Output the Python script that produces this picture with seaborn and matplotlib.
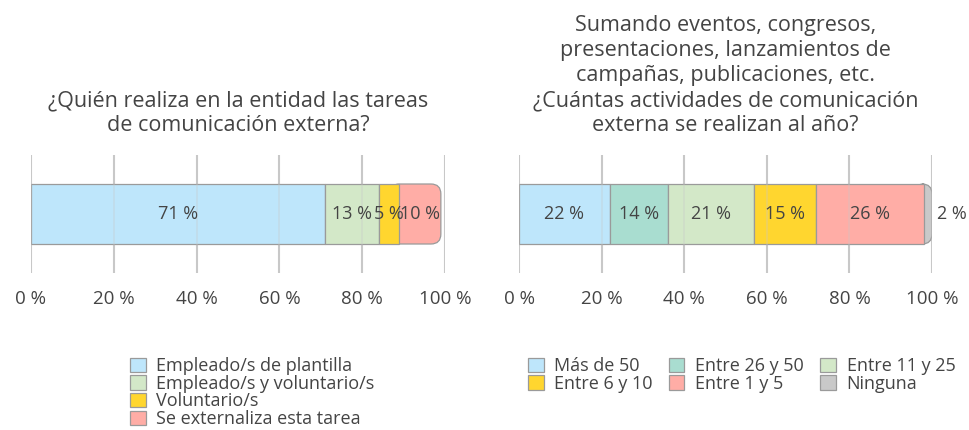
import matplotlib
matplotlib.use("Agg")
import matplotlib.pyplot as plt
import seaborn as sns
import numpy as np
from matplotlib.patches import FancyBboxPatch, Patch

sns.set_theme(style="white")
plt.rcParams["font.family"] = ["Open Sans", "DejaVu Sans"]

# Who does the external communication work
who_labels = ["Empleado/s de plantilla", "Empleado/s y voluntario/s",
              "Voluntario/s", "Se externaliza esta tarea"]
who_values = [71, 13, 5, 10]
who_colors = ["#BEE6FB", "#D3E8C8", "#FFD62F", "#FFADA6"]

# Number of external communication activities per year
acts_labels = ["Más de 50", "Entre 26 y 50", "Entre 11 y 25",
               "Entre 6 y 10", "Entre 1 y 5", "Ninguna"]
acts_values = [22, 14, 21, 15, 26, 2]
acts_colors = ["#BEE6FB", "#A9DDD0", "#D3E8C8", "#FFD62F", "#FFADA6", "#C9C9C9"]

ticks = [0, 20, 40, 60, 80, 100]
tick_labels = ["0 %", "20 %", "40 %", "60 %", "80 %", "100 %"]

title_left = "¿Quién realiza en la entidad las tareas\nde comunicación externa?"
title_right = ("Sumando eventos, congresos,\npresentaciones, lanzamientos de\n"
               "campañas, publicaciones, etc.\n¿Cuántas actividades de comunicación\n"
               "externa se realizan al año?")

W, H = 969, 430
fig = plt.figure(figsize=(W / 100, H / 100), dpi=100)

TEXT = "#444444"
EDGE = "#9a9a9a"
GRID = "#c8c8c8"


def stacked(ax, values, colors, outside_last=False):
    starts = np.concatenate([[0], np.cumsum(values)[:-1]])
    bar_h = 0.6
    for i, (s, v, c) in enumerate(zip(starts, values, colors)):
        n_before = len(ax.patches)
        sns.barplot(x=[s + v], y=["a"], color=c, orient="h", ax=ax,
                    width=bar_h, saturation=1, edgecolor=EDGE, linewidth=0.9,
                    zorder=2)
        p = ax.patches[n_before]
        p.set_x(s)
        p.set_width(v)
        if i == len(values) - 1:
            # round the right end of the bar
            y0, hh = p.get_y(), p.get_height()
            p.remove()
            r = 2.4
            fb = FancyBboxPatch((s - r, y0), v + r, hh,
                                boxstyle=f"round,pad=0,rounding_size={r}",
                                mutation_aspect=0.0414,
                                facecolor=c, edgecolor=EDGE, linewidth=0.9,
                                zorder=1.5)
            ax.add_patch(fb)
    for i, (s, v) in enumerate(zip(starts, values)):
        if outside_last and i == len(values) - 1:
            ax.text(s + v + 1.2, 0, f"{v} %", ha="left", va="center",
                    fontsize=13, color=TEXT, zorder=4)
        else:
            ax.text(s + v / 2, 0, f"{v} %", ha="center", va="center",
                    fontsize=13, color=TEXT, zorder=4)
    for t in ticks:
        ax.axvline(t, color=GRID, lw=1.5, zorder=0)
        ax.axvline(t, color=GRID, lw=1.2, alpha=0.35, zorder=3)
    ax.set_xlim(0, 100)
    ax.set_ylim(0.59, -0.59)
    ax.set_xticks(ticks)
    ax.set_xticklabels(tick_labels, fontsize=13.5, color=TEXT)
    ax.tick_params(axis="x", length=0, pad=12)
    ax.set_yticks([])
    ax.set_xlabel("")
    ax.set_ylabel("")
    for sp in ax.spines.values():
        sp.set_visible(False)
    ax.set_facecolor("none")


ax1 = fig.add_axes([31 / W, 1 - 273 / H, 414 / W, 118 / H])
ax2 = fig.add_axes([519 / W, 1 - 273 / H, 413 / W, 118 / H])

stacked(ax1, who_values, who_colors)
stacked(ax2, acts_values, acts_colors, outside_last=True)

ax1.set_title(title_left, fontsize=15.5, color=TEXT, pad=17, linespacing=1.25)
ax2.set_title(title_right, fontsize=15.5, color=TEXT, pad=17, linespacing=1.25)

h1 = [Patch(facecolor=c, edgecolor=EDGE, linewidth=0.9) for c in who_colors]
fig.legend(h1, who_labels, loc="upper left", bbox_to_anchor=(123 / W, 1 - 350 / H),
           ncol=1, frameon=False, fontsize=13, labelcolor=TEXT,
           handlelength=0.85, handleheight=0.85, handletextpad=0.6,
           labelspacing=-0.02, borderaxespad=0)

# legend fills column by column; order entries so rows read left to right
order = [0, 3, 1, 4, 2, 5]
h2 = [Patch(facecolor=acts_colors[k], edgecolor=EDGE, linewidth=0.9) for k in order]
fig.legend(h2, [acts_labels[k] for k in order], loc="upper left",
           bbox_to_anchor=(521 / W, 1 - 350 / H),
           ncol=3, frameon=False, fontsize=13, labelcolor=TEXT,
           handlelength=0.85, handleheight=0.85, handletextpad=0.6,
           labelspacing=-0.02, columnspacing=0.9, borderaxespad=0)

fig.savefig("out.png", dpi=100, facecolor="white")
